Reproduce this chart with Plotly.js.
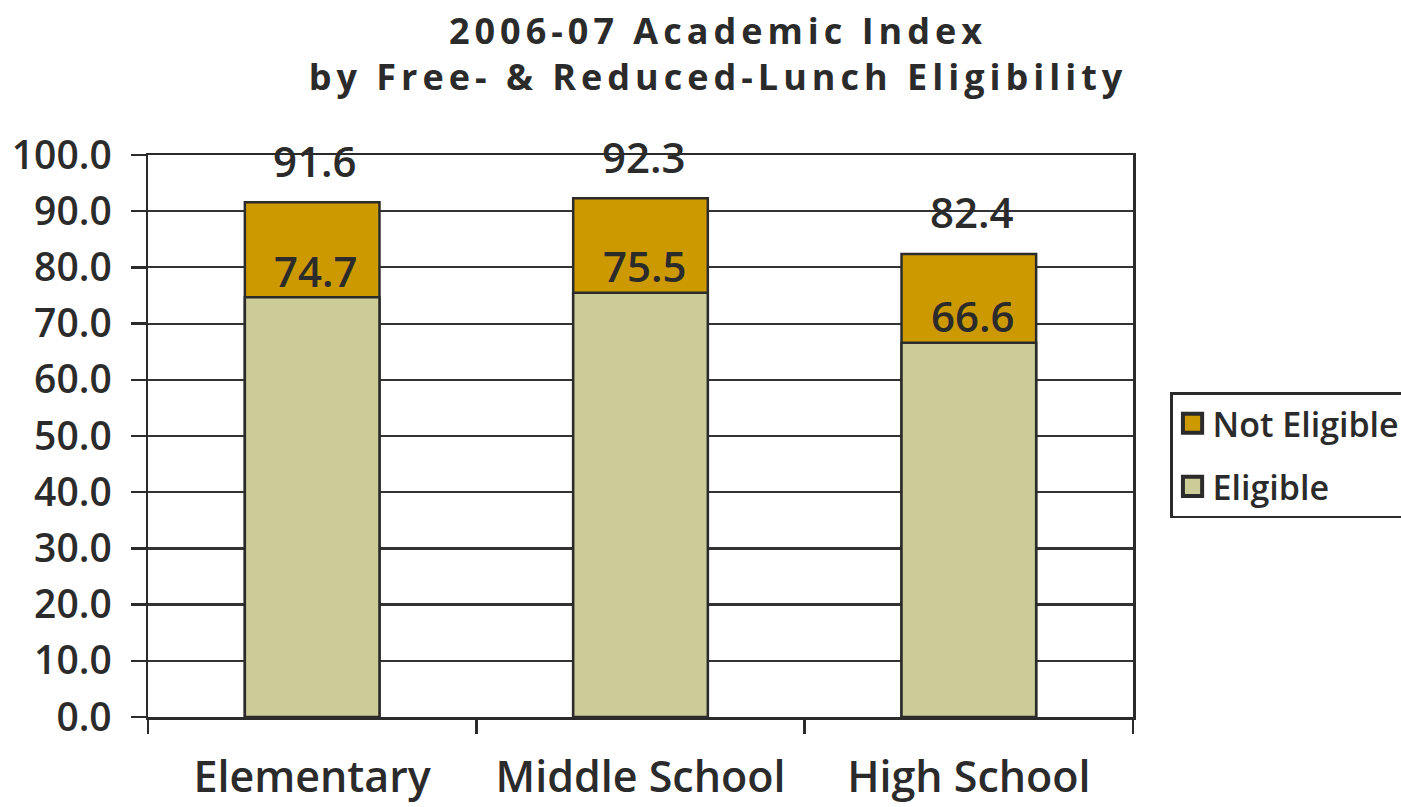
<!DOCTYPE html>
<html>
<head>
<meta charset="utf-8">
<script src="https://cdn.plot.ly/plotly-3.0.1.min.js"></script>
<style>
  html, body { margin: 0; padding: 0; background: #fff; }
  #chart { width: 1401px; height: 807px; }
  .gtitle { letter-spacing: 5px; }
  .legend .legendpoints { transform-box: fill-box; transform-origin: center; transform: scale(1.6); }
</style>
</head>
<body>
<div id="chart"></div>
<script>
const categories = ["Elementary", "Middle School", "High School"];
const notEligible = [91.6, 92.3, 82.4];
const eligible = [74.7, 75.5, 66.6];
const seriesNames = ["Not Eligible", "Eligible"];
const yTickValues = [0, 10, 20, 30, 40, 50, 60, 70, 80, 90, 100];

const ink = "#2b2b2b";
const fontFam = "Open Sans, Noto Sans, sans-serif";

const traces = [
  {
    type: "bar", name: seriesNames[0], x: categories, y: notEligible,
    width: 0.41, legendgroup: "a",
    marker: { color: "#CC9900", line: { color: ink, width: 2.5 } },
    hoverinfo: "skip"
  },
  {
    type: "bar", name: seriesNames[1], x: categories, y: eligible,
    width: 0.41, legendgroup: "b",
    marker: { color: "#CCCC99", line: { color: ink, width: 2.5 } },
    hoverinfo: "skip"
  }
];

const annotations = [];
categories.forEach((c, i) => {
  annotations.push({
    x: c, y: notEligible[i], xref: "x", yref: "y",
    text: notEligible[i].toFixed(1), showarrow: false,
    yanchor: "middle", yshift: 42, xshift: 3,
    font: { family: fontFam, size: 42, color: ink, weight: 600 }
  });
  annotations.push({
    x: c, y: eligible[i], xref: "x", yref: "y",
    text: eligible[i].toFixed(1), showarrow: false,
    yanchor: "middle", yshift: 27, xshift: 4,
    font: { family: fontFam, size: 42, color: ink, weight: 600 }
  });
});

const layout = {
  width: 1401, height: 807,
  paper_bgcolor: "#fff", plot_bgcolor: "#fff",
  margin: { l: 148, r: 268, t: 155, b: 90, autoexpand: false },
  barmode: "overlay",
  font: { family: fontFam, color: ink },
  title: {
    text: "2006-07 Academic Index<br>by Free- & Reduced-Lunch Eligibility",
    x: 0.5787, xanchor: "center", xref: "paper",
    y: 0.946, yanchor: "middle", yref: "container",
    font: { family: fontFam, size: 36, color: ink, weight: 700 }
  },
  xaxis: {
    type: "category",
    tickson: "boundaries", ticks: "outside", ticklen: 14, tickwidth: 2.5, tickcolor: ink,
    showline: true, linecolor: ink, linewidth: 2.5, mirror: true,
    showgrid: false, zeroline: false,
    tickfont: { family: fontFam, size: 43, color: ink, weight: 600 },
    ticklabelstandoff: 21,
    fixedrange: true
  },
  yaxis: {
    range: [0, 100], tickvals: yTickValues, tickformat: ".1f",
    ticks: "outside", ticklen: 15, tickwidth: 2.5, tickcolor: ink,
    showline: true, linecolor: ink, linewidth: 2.5, mirror: true,
    showgrid: true, gridcolor: "#333", gridwidth: 2.2, zeroline: false,
    tickfont: { family: fontFam, size: 39, color: ink, weight: 600 },
    ticklabelstandoff: 11,
    fixedrange: true
  },
  showlegend: true,
  legend: {
    x: 1.0376, xanchor: "left", y: 0.578, yanchor: "top",
    bordercolor: ink, borderwidth: 2.5, bgcolor: "#fff",
    traceorder: "grouped", tracegroupgap: 16,
    font: { family: fontFam, size: 34, color: ink, weight: 600 }
  },
  annotations: annotations
};

Plotly.newPlot("chart", traces, layout, { displayModeBar: false, staticPlot: true });
</script>
</body>
</html>
